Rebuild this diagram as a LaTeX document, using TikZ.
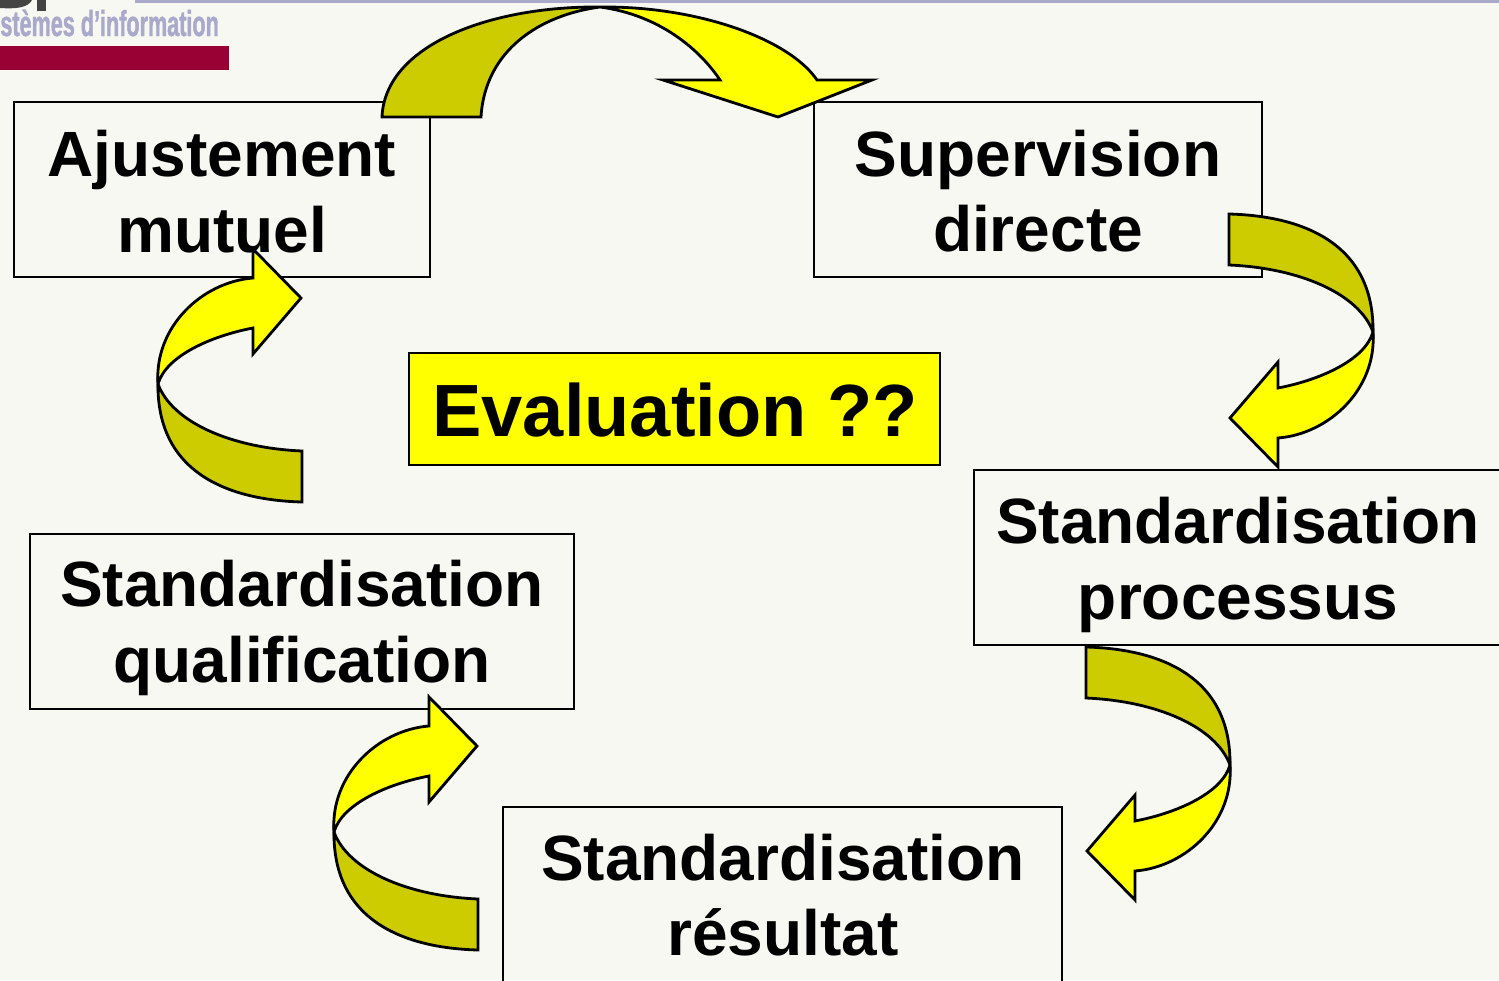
\documentclass[tikz,border=0pt]{standalone}
\usepackage{fontspec}
\setmainfont{Liberation Sans}
\newfontfamily\logofont[FakeStretch=0.6, FakeBold=1.2]{Liberation Sans}
\definecolor{bgc}{HTML}{F8F8F2}
\definecolor{arrdark}{HTML}{CCCC00}
\definecolor{arrlight}{HTML}{FFFF00}
\definecolor{lav}{HTML}{A9A9CC}
\definecolor{logored}{HTML}{990033}
\definecolor{logogrey}{HTML}{444444}
\tikzset{
  darkpart/.style={fill=arrdark, draw=black, line width=1.4pt, line join=miter},
  lightpart/.style={fill=arrlight, draw=black, line width=1.4pt, line join=miter},
  box/.style={draw=black, line width=1pt, rectangle, inner sep=0pt},
  lbl/.style={font=\bfseries\fontsize{32}{38}\selectfont, inner sep=0pt, anchor=base},
}
\newcommand\sidearrowshape{%
  \filldraw[darkpart] (0,0) .. controls (75,2) and (145,30) .. (144,118)
     .. controls (130,80) and (71,54) .. (0,51) -- cycle;
  \filldraw[lightpart] (144,118) .. controls (148,175) and (100,220) .. (49,224)
     -- (49,253) -- (1,204) -- (49,148) -- (49,174)
     .. controls (91,166) and (136,146) .. (144,118) -- cycle;
}
\begin{document}
\begin{tikzpicture}[x=0.5pt, y=-0.5pt]
\useasboundingbox (0,0) rectangle (1499,980);
\clip (0,0) rectangle (1499,980);
\fill[bgc] (0,0) rectangle (1499,980);
% header
\fill[lav] (135,0) rectangle (1499,3);
\fill[logogrey] (0,0) -- (32,0) .. controls (28,8) and (15,9) .. (0,8) -- cycle;
\fill[logogrey] (37,0) rectangle (46,11);
\node[inner sep=0pt, anchor=base west, text=lav, font=\logofont\bfseries\fontsize{18}{20}\selectfont] (logo) at (0,36) {stèmes d’information};
\fill[logored] (0,46) rectangle (229,70);
% boxes
\node[box, minimum width=208pt, minimum height=87.5pt] (aj) at (222,189.5) {};
\node[box, minimum width=224pt, minimum height=87.5pt] (sup) at (1038,189.5) {};
\node[box, minimum width=264pt, minimum height=87.5pt] (proc) at (1238,557.5) {};
\node[box, minimum width=272pt, minimum height=87.5pt] (qual) at (302,621.5) {};
\node[box, minimum width=279.5pt, minimum height=87.5pt] (res) at (782.5,894.5) {};
\node[box, fill=arrlight, minimum width=265.5pt, minimum height=56pt] (eval) at (674.5,409) {};
% labels
\node[lbl] (aj1) at (222,176) {Ajustement};
\node[lbl] (aj2) at (222,252) {mutuel};
\node[lbl] (sup1) at (1038,176) {Supervision};
\node[lbl] (sup2) at (1038,251) {directe};
\node[lbl] (proc1) at (1238,543) {Standardisation};
\node[lbl] (proc2) at (1238,619) {processus};
\node[lbl] (qual1) at (302,606) {Standardisation};
\node[lbl] (qual2) at (302,682) {qualification};
\node[lbl] (res1) at (783,880) {Standardisation};
\node[lbl] (res2) at (783,955) {résultat};
\node[lbl, font=\bfseries\fontsize{37}{44}\selectfont] (eval1) at (675,436) {Evaluation ??};
% top arrow
\filldraw[darkpart] (382,117) .. controls (385,45) and (490,6) .. (600,7)
   .. controls (540,15) and (485,50) .. (481,117) -- cycle;
\filldraw[lightpart] (600,7) .. controls (700,6) and (790,40) .. (817,80)
   -- (872,80) -- (778,117) -- (663,80) -- (720,80)
   .. controls (700,50) and (660,15) .. (600,7) -- cycle;
% side arrows
\begin{scope}[shift={(1229,214)}] \sidearrowshape \end{scope}
\begin{scope}[shift={(1086,647)}] \sidearrowshape \end{scope}
\begin{scope}[shift={(302,502)}, rotate=180] \sidearrowshape \end{scope}
\begin{scope}[shift={(478,950)}, rotate=180] \sidearrowshape \end{scope}
\end{tikzpicture}
\end{document}
